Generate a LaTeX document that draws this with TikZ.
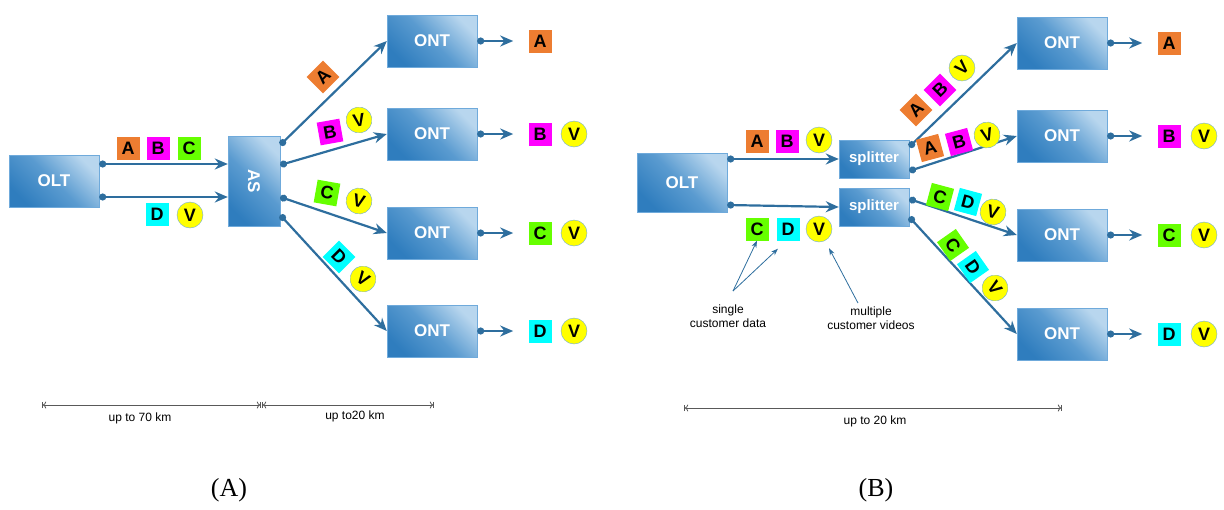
\documentclass[tikz,border=0pt]{standalone}
\usepackage{fontspec}
\setmainfont{Liberation Serif}
\setsansfont{Liberation Sans}
\usetikzlibrary{arrows.meta}

\definecolor{boxdark}{HTML}{2F7DBE}
\definecolor{boxmid}{HTML}{5A9BD0}
\definecolor{boxlight}{HTML}{B8D6EE}
\definecolor{boxedge}{HTML}{6FAADB}
\definecolor{fibre}{HTML}{2E6E9E}
\definecolor{lblA}{HTML}{ED7D31}
\definecolor{lblB}{HTML}{FF00FF}
\definecolor{lblC}{HTML}{66FF00}
\definecolor{lblD}{HTML}{00FFFF}
\definecolor{lblV}{HTML}{FFFF00}

\tikzset{
  equip/.style={draw=boxedge, top color=boxlight, bottom color=boxdark,
    middle color=boxmid, shading angle=-45, text=white, inner sep=0pt,
    font=\sffamily\bfseries\fontsize{17}{17}\selectfont,
    minimum width=90pt, minimum height=52pt},
  fibre/.style={draw=fibre, line width=2.2pt,
    {Circle[length=7pt]}-{Stealth[length=13pt,width=11pt]}},
  sq/.style={inner sep=0pt, minimum size=23pt,
    font=\sffamily\bfseries\fontsize{18}{18}\selectfont},
  vc/.style={circle, fill=lblV, draw=boxedge, inner sep=0pt,
    minimum size=26pt, font=\sffamily\bfseries\fontsize{18}{18}\selectfont},
  dim/.style={draw=gray!70!black, line width=0.8pt, |<->|},
  dimtext/.style={font=\sffamily\fontsize{12}{14}\selectfont},
  note/.style={font=\sffamily\fontsize{12}{14}\selectfont, align=center},
  pointer/.style={draw=fibre, line width=0.8pt, -{Stealth[length=7pt,width=5pt]}}
}

\begin{document}
\begin{tikzpicture}[x=1pt, y=-1pt]

\useasboundingbox (0,0) rectangle (1224,509);

% ---------- (A) ----------

% Equipements
\node[equip] (oltA) at (54,181) {OLT};
\node[equip, minimum width=52pt, minimum height=90pt] (as) at (254,181)
  {\rotatebox{-90}{AS}};
\node[equip] (ontA1) at (432,41) {ONT};
\node[equip] (ontA2) at (432,134) {ONT};
\node[equip] (ontA3) at (432,233) {ONT};
\node[equip] (ontA4) at (432,331) {ONT};

% Fibres
\draw[fibre] (oltA.east |- 0,164) -- (as.west |- 0,164);
\draw[fibre] (oltA.east |- 0,197) -- (as.west |- 0,197);
\draw[fibre] (as.east |- 0,145) -- (ontA1.west);
\draw[fibre] (as.east |- 0,165) -- (ontA2.west);
\draw[fibre] (as.east |- 0,197) -- (ontA3.west);
\draw[fibre] (as.east |- 0,215) -- (ontA4.west);
\foreach \o in {ontA1,ontA2,ontA3,ontA4}
  \draw[fibre] (\o.east) -- ++(36,0);

% Donnees
\node[sq, fill=lblA] (inA) at (128,148) {A};
\node[sq, fill=lblB] (inB) at (158,148) {B};
\node[sq, fill=lblC] (inC) at (189,148) {C};
\node[sq, fill=lblD] (inD) at (157,214) {D};
\node[vc] (inV) at (190,215) {V};

\node[sq, fill=lblA, rotate=45] (brA) at (323,77) {A};
\node[sq, fill=lblB, rotate=10] (brB) at (330,132) {B};
\node[vc, rotate=10] (brBV) at (359,120) {V};
\node[sq, fill=lblC, rotate=-10] (brC) at (327,193) {C};
\node[vc, rotate=-15] (brCV) at (359,201) {V};
\node[sq, fill=lblD, rotate=-45] (brD) at (339,257) {D};
\node[vc, rotate=-35] (brDV) at (363,279) {V};

\node[sq, fill=lblA] (outA1) at (540,41) {A};
\node[sq, fill=lblB] (outA2) at (540,134) {B};
\node[vc] (outA2V) at (574,134) {V};
\node[sq, fill=lblC] (outA3) at (540,233) {C};
\node[vc] (outA3V) at (574,233) {V};
\node[sq, fill=lblD] (outA4) at (540,331) {D};
\node[vc] (outA4V) at (574,331) {V};

% Distances
\draw[dim] (42,405) -- (261,405);
\draw[dim] (262,405) -- (434,405);
\node[dimtext] (dA1) at (140,418) {up to 70 km};
\node[dimtext] (dA2) at (355,416) {up to20 km};

\node[font=\fontsize{26}{26}\selectfont] (capA) at (229,490) {(A)};

% ---------- (B) ----------

% Equipements
\node[equip, minimum height=59pt] (oltB) at (682,183) {OLT};
\node[equip, minimum width=70pt, minimum height=38pt,
  font=\sffamily\bfseries\fontsize{15}{15}\selectfont] (spl1) at (874,159) {splitter};
\node[equip, minimum width=70pt, minimum height=38pt,
  font=\sffamily\bfseries\fontsize{15}{15}\selectfont] (spl2) at (874,207) {splitter};
\node[equip] (ontB1) at (1062,43) {ONT};
\node[equip] (ontB2) at (1062,136) {ONT};
\node[equip] (ontB3) at (1062,235) {ONT};
\node[equip] (ontB4) at (1062,334) {ONT};

% Fibres
\draw[fibre] (oltB.east |- spl1.west) -- (spl1.west);
\draw[fibre] (oltB.east |- 0,205) -- (spl2.west);
\draw[fibre] (spl1.east |- 0,147) -- (ontB1.west);
\draw[fibre] (spl1.east |- 0,171) -- (ontB2.west);
\draw[fibre] (spl2.east |- 0,199) -- (ontB3.west);
\draw[fibre] (spl2.east |- 0,217) -- (ontB4.west);
\foreach \o in {ontB1,ontB2,ontB3,ontB4}
  \draw[fibre] (\o.east) -- ++(35,0);

% Donnees
\node[sq, fill=lblA] (upA) at (757,141) {A};
\node[sq, fill=lblB] (upB) at (787,141) {B};
\node[vc] (upV) at (819,140) {V};
\node[sq, fill=lblC] (loC) at (757,229) {C};
\node[sq, fill=lblD] (loD) at (788,229) {D};
\node[vc] (loV) at (819,229) {V};

\node[sq, fill=lblA, rotate=45] (b1A) at (916,110) {A};
\node[sq, fill=lblB, rotate=45] (b1B) at (940,90) {B};
\node[vc, rotate=45] (b1V) at (962,68) {V};
\node[sq, fill=lblA, rotate=15] (b2A) at (930,148) {A};
\node[sq, fill=lblB, rotate=15] (b2B) at (959,142) {B};
\node[vc, rotate=15] (b2V) at (987,135) {V};
\node[sq, fill=lblC, rotate=-15] (b3C) at (940,197) {C};
\node[sq, fill=lblD, rotate=-15] (b3D) at (968,202) {D};
\node[vc, rotate=-15] (b3V) at (993,212) {V};
\node[sq, fill=lblC, rotate=-55] (b4C) at (953,245) {C};
\node[sq, fill=lblD, rotate=-55] (b4D) at (973,267) {D};
\node[vc, rotate=-55] (b4V) at (995,288) {V};

\node[sq, fill=lblA] (outB1) at (1169,43) {A};
\node[sq, fill=lblB] (outB2) at (1169,136) {B};
\node[vc] (outB2V) at (1204,136) {V};
\node[sq, fill=lblC] (outB3) at (1169,235) {C};
\node[vc] (outB3V) at (1204,235) {V};
\node[sq, fill=lblD] (outB4) at (1169,334) {D};
\node[vc] (outB4V) at (1204,334) {V};

% Legende
\node[note] (single) at (728,316) {single\\customer data};
\node[note] (multi) at (871,318) {multiple\\customer videos};
\coordinate (fork) at (733,291);
\draw[pointer] (fork) -- (loC.south);
\draw[pointer] (fork) -- ([xshift=-10pt, yshift=-8pt]loD.south);
\draw[pointer] (multi.north -| 858,0) -- ([xshift=10pt, yshift=-6pt]loV.south);

% Distance
\draw[dim] (684,408) -- (1062,408);
\node[dimtext] (dB) at (875,421) {up to 20 km};

\node[font=\fontsize{26}{26}\selectfont] (capB) at (876,490) {(B)};

\end{tikzpicture}
\end{document}
